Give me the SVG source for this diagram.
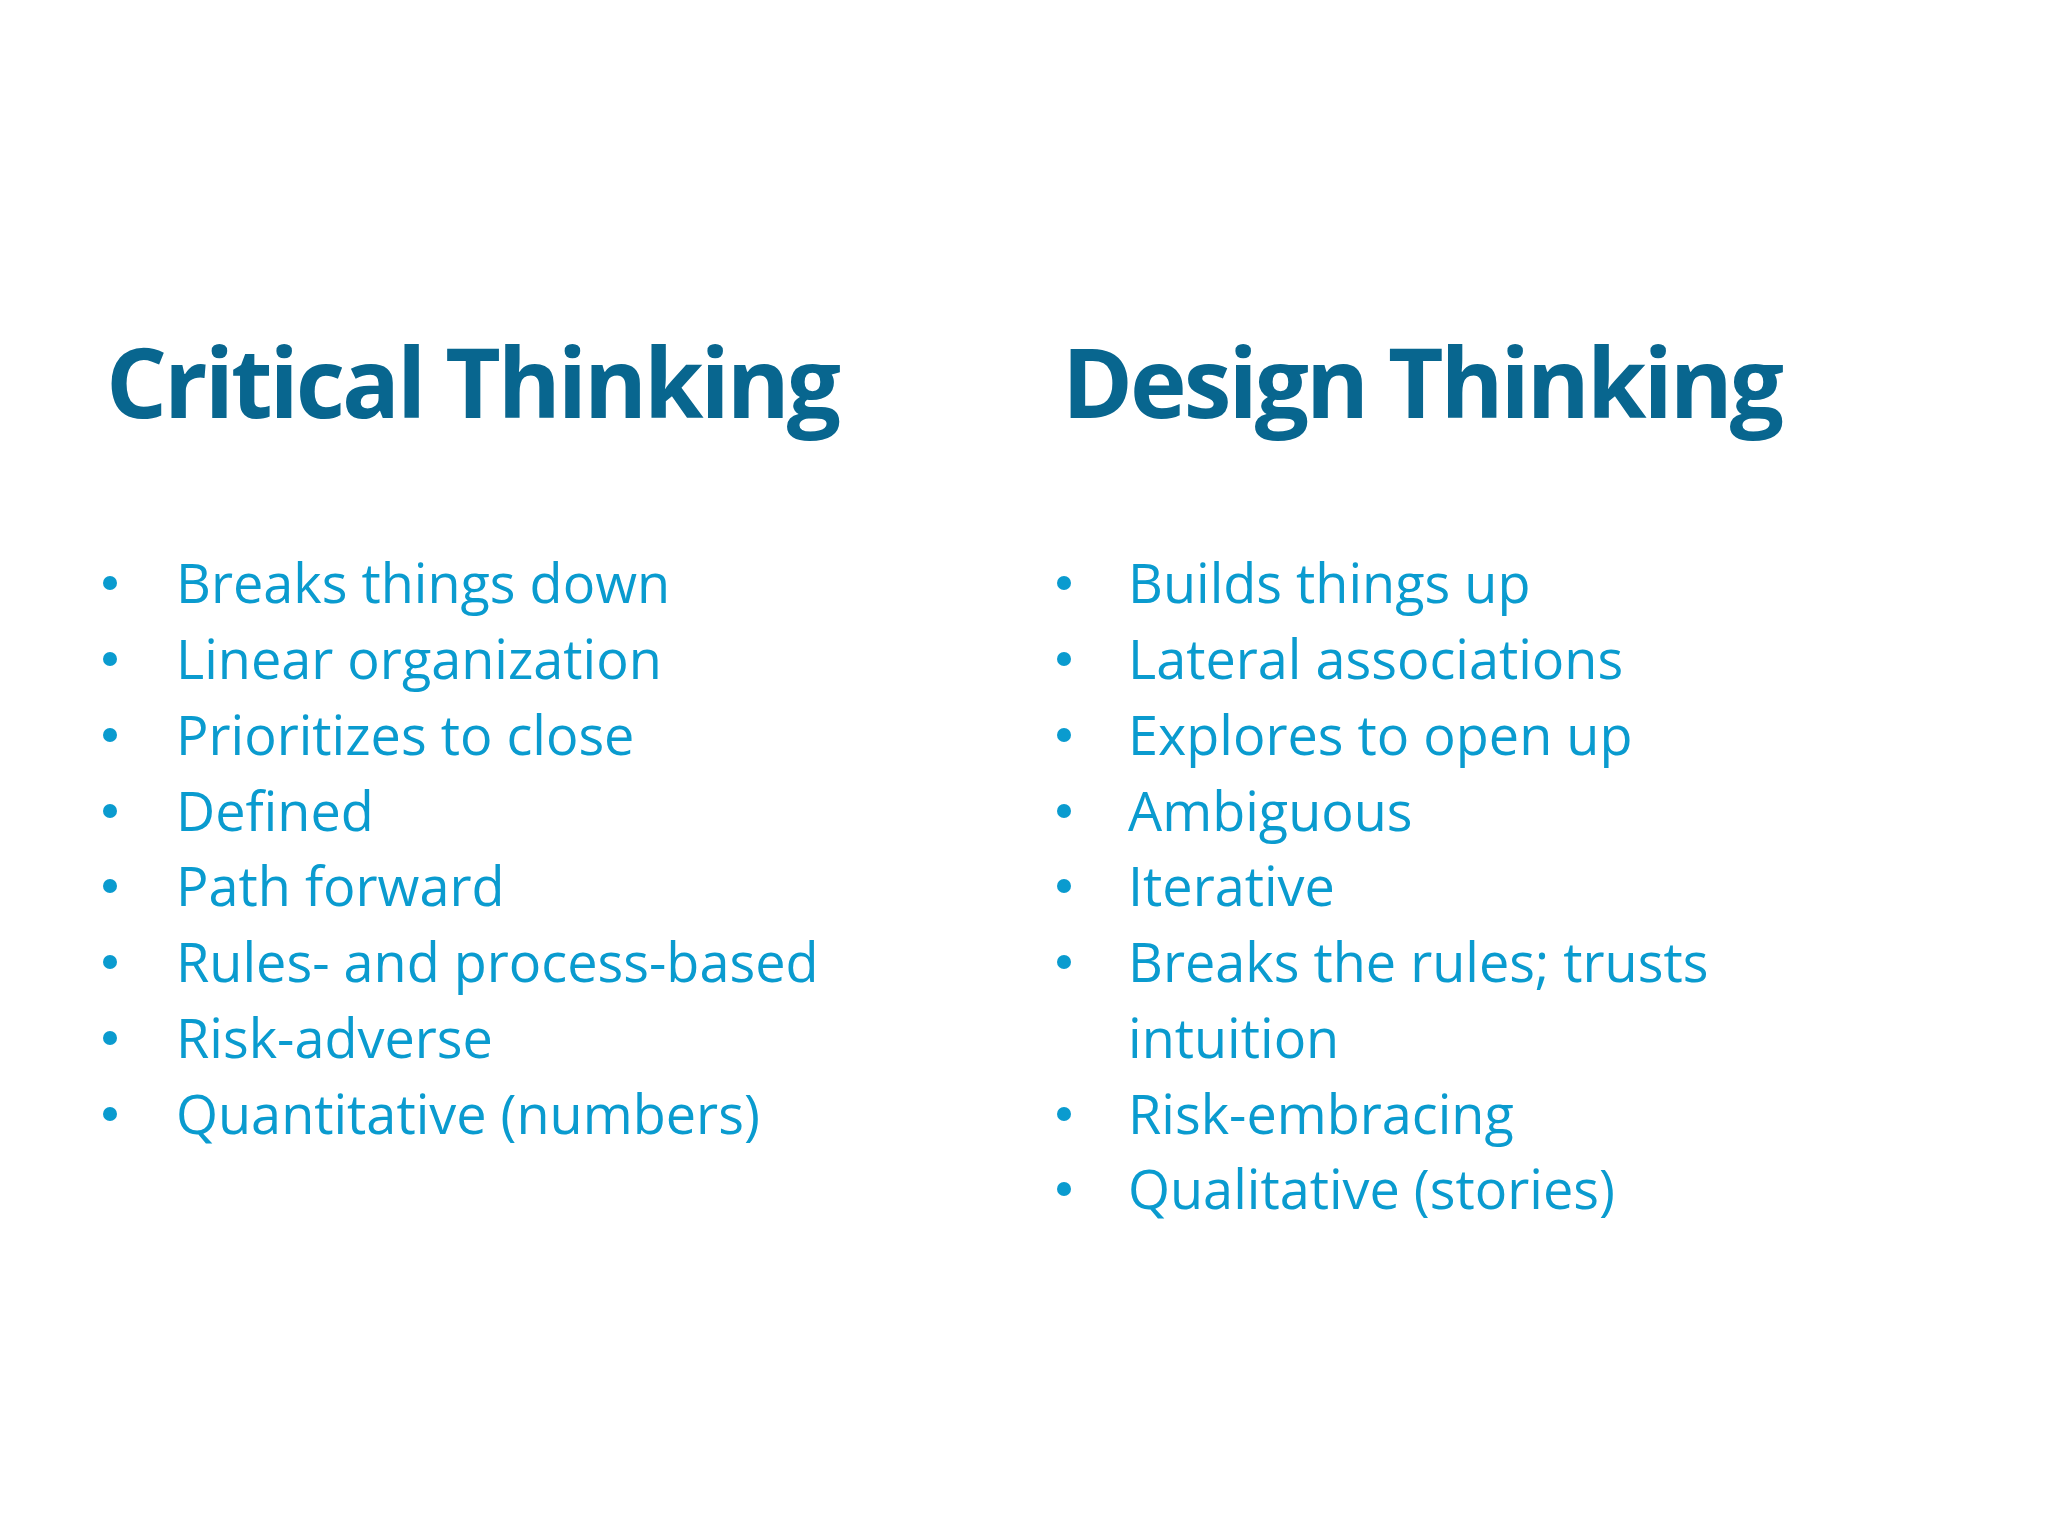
<svg xmlns="http://www.w3.org/2000/svg" width="2048" height="1536" viewBox="0 0 2048 1536">
<style>
.t{font-family:"Open Sans","Noto Sans",sans-serif;font-weight:700;font-size:96px;fill:#08668f}
.b{font-family:"Open Sans","Noto Sans",sans-serif;font-size:54px;fill:#0a9bcf}
.d{fill:#0a9bcf}
</style>
<rect width="2048" height="1536" fill="#ffffff"/>
<g id="critical">
<text class="t" x="106" y="418" textLength="735">Critical Thinking</text>
<g class="d">
<circle cx="110" cy="583" r="7"/><circle cx="110" cy="659" r="7"/><circle cx="110" cy="735" r="7"/><circle cx="110" cy="811" r="7"/>
<circle cx="110" cy="886" r="7"/><circle cx="110" cy="962" r="7"/><circle cx="110" cy="1038" r="7"/><circle cx="110" cy="1114" r="7"/>
</g>
<g class="b">
<text x="176" y="603">Breaks things down</text>
<text x="176" y="679">Linear organization</text>
<text x="176" y="755">Prioritizes to close</text>
<text x="176" y="831">Defined</text>
<text x="176" y="906">Path forward</text>
<text x="176" y="982">Rules- and process-based</text>
<text x="176" y="1058">Risk-adverse</text>
<text x="176" y="1134">Quantitative (numbers)</text>
</g>
</g>
<g id="design">
<text class="t" x="1062" y="418" textLength="722">Design Thinking</text>
<g class="d">
<circle cx="1064" cy="583" r="7"/><circle cx="1064" cy="659" r="7"/><circle cx="1064" cy="735" r="7"/><circle cx="1064" cy="811" r="7"/>
<circle cx="1064" cy="886" r="7"/><circle cx="1064" cy="962" r="7"/><circle cx="1064" cy="1114" r="7"/><circle cx="1064" cy="1189" r="7"/>
</g>
<g class="b">
<text x="1128" y="603">Builds things up</text>
<text x="1128" y="679">Lateral associations</text>
<text x="1128" y="755">Explores to open up</text>
<text x="1128" y="831">Ambiguous</text>
<text x="1128" y="906">Iterative</text>
<text x="1128" y="982">Breaks the rules; trusts</text>
<text x="1128" y="1058">intuition</text>
<text x="1128" y="1134">Risk-embracing</text>
<text x="1128" y="1209">Qualitative (stories)</text>
</g>
</g>
</svg>
